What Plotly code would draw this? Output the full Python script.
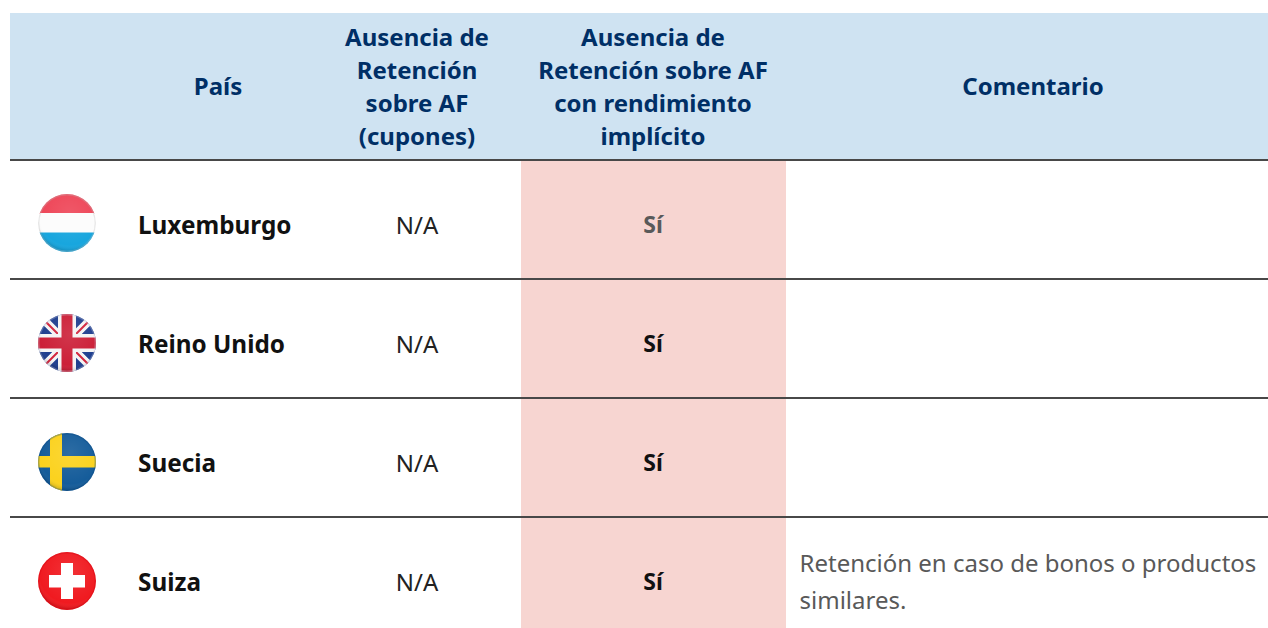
import base64
import plotly.graph_objects as go

# ---- table content ----
paises = ["Luxemburgo", "Reino Unido", "Suecia", "Suiza"]
cupones = ["N/A", "N/A", "N/A", "N/A"]
implicito = ["Sí", "Sí", "Sí", "Sí"]
comentario = [[], [], [], ["Retención en caso de bonos o productos", "similares."]]
cabeceras = [
    ["País"],
    ["Ausencia de", "Retención", "sobre AF", "(cupones)"],
    ["Ausencia de", "Retención sobre AF", "con rendimiento", "implícito"],
    ["Comentario"],
]

# ---- layout / styles ----
W, H = 1268, 628
NAVY, HEAD_BG, PINK, LINE, GREY = "#002F66", "#CFE3F2", "#F7D5D1", "#484848", "#595959"
FONT = "Noto Sans"
HEAD_X = [218, 417, 653, 1033]
HEAD_CY = 89
HEAD_LH = 33
ROW_Y = [228, 347, 466, 585]
SI_Y = [227, 346, 465, 584]
FLAG_Y = [223, 343, 462, 581]
RULES = [279, 398, 517]
SI_COL = [GREY, "#111111", "#111111", "#111111"]

GLOSS = ('<radialGradient id="g" cx="55%" cy="35%" r="62%"><stop offset="0" stop-color="#fff" stop-opacity=".1"/>'
         '<stop offset=".85" stop-color="#fff" stop-opacity="0"/><stop offset="1" stop-color="#000" stop-opacity=".1"/></radialGradient>')

def svg(body, rim):
    s = ('<svg xmlns="http://www.w3.org/2000/svg" width="116" height="116" viewBox="0 0 58 58"><defs>'
         '<clipPath id="c"><circle cx="29" cy="29" r="29"/></clipPath>' + GLOSS + '</defs><g clip-path="url(#c)">'
         + body + '<circle cx="29" cy="29" r="29" fill="url(#g)"/>'
         f'<circle cx="29" cy="29" r="28.3" fill="none" stroke="{rim}" stroke-width="1.4" stroke-opacity=".3"/></g></svg>')
    return "data:image/svg+xml;base64," + base64.b64encode(s.encode()).decode()

flags = [
    svg('<rect width="58" height="20" fill="#EE4658"/><rect y="19" width="58" height="20" fill="#FCFCFC"/>'
        '<rect y="38.5" width="58" height="19.5" fill="#18A6DE"/>', "#BBBBBB"),
    svg('<rect width="58" height="58" fill="#1F3F8F"/>'
        '<path d="M0 0L58 58M58 0L0 58" stroke="#F4F4F4" stroke-width="8"/>'
        '<path d="M0 0L58 58M58 0L0 58" stroke="#D2233C" stroke-width="2"/>'
        '<rect x="20" width="18" height="58" fill="#F4F4F4"/><rect y="20" width="58" height="18" fill="#F4F4F4"/>'
        '<rect x="23.5" width="11" height="58" fill="#CC2038"/><rect y="23.5" width="58" height="11" fill="#CC2038"/>', "#CCCCDD"),
    svg('<rect width="58" height="58" fill="#155C9A"/><rect x="12" width="12" height="58" fill="#FBD21E"/>'
        '<rect y="23" width="58" height="11.5" fill="#FBD21E"/>', "#0D4A80"),
    svg('<rect width="58" height="58" fill="#F01A20"/><rect x="23" y="11" width="12" height="36" fill="#fff"/>'
        '<rect x="11" y="23" width="36" height="12.5" fill="#fff"/>', "#CC0010"),
]

shapes = [
    dict(type="rect", x0=10, x1=W, y0=13, y1=160, fillcolor=HEAD_BG, line_width=0, layer="below"),
    dict(type="rect", x0=521, x1=786, y0=161, y1=H, fillcolor=PINK, line_width=0, layer="below"),
    dict(type="line", x0=10, x1=W, y0=160, y1=160, line=dict(color=LINE, width=2), layer="below"),
]
for r in RULES:
    shapes.append(dict(type="line", x0=10, x1=W, y0=r, y1=r, line=dict(color=LINE, width=2), layer="below"))

fig = go.Figure()

def add_text(xs, ys, texts, color, size, bold=False, pos="middle center"):
    fig.add_trace(go.Scatter(
        x=xs, y=ys, text=[f"<b>{t}</b>" if bold else t for t in texts], mode="text", textposition=pos,
        textfont=dict(family=FONT, size=size, color=color), hoverinfo="skip", showlegend=False))

# headers
for x, lines in zip(HEAD_X, cabeceras):
    n = len(lines)
    ys = [HEAD_CY + (i - (n - 1) / 2) * HEAD_LH for i in range(n)]
    add_text([x] * n, ys, lines, NAVY, 24, bold=True)

# body
add_text([138] * 4, ROW_Y, paises, "#111111", 24.3, bold=True, pos="middle right")
add_text([417] * 4, ROW_Y, cupones, "#222222", 24)
add_text([653] * 4, SI_Y, implicito, SI_COL, 23, bold=True)
for y, lines in zip(ROW_Y, comentario):
    for i, t in enumerate(lines):
        add_text([799.5], [y - 19 + 37 * i], [t], GREY, 24, pos="middle right")

images = [dict(source=f, xref="x", yref="y", x=67 - 29, y=cy - 29, sizex=58, sizey=58,
               xanchor="left", yanchor="top", sizing="stretch", layer="above")
          for f, cy in zip(flags, FLAG_Y)]

fig.update_layout(
    width=W, height=H, margin=dict(l=0, r=0, t=0, b=0), paper_bgcolor="white", plot_bgcolor="white",
    xaxis=dict(range=[0, W], visible=False, fixedrange=True),
    yaxis=dict(range=[H, 0], visible=False, fixedrange=True),
    shapes=shapes, images=images, showlegend=False,
)
fig.write_html("out.html", config=dict(displayModeBar=False),
               post_script="document.body.style.margin='0';document.body.style.overflow='hidden';")
